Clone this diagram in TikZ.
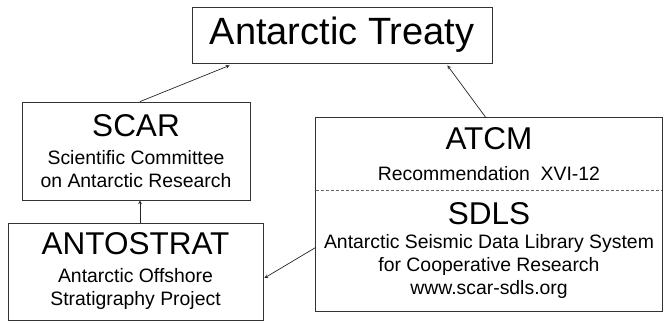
\documentclass[tikz,border=0pt]{standalone}
\usepackage{fontspec}
\setmainfont{Liberation Sans}
\usetikzlibrary{arrows, positioning}
\newcommand{\treatyfont}{\fontsize{38}{44}\selectfont}
\newcommand{\headfont}{\fontsize{31.5}{36}\selectfont}
\newcommand{\subfont}{\fontsize{19.4}{23}\selectfont}
\tikzstyle{arrow} = [line width=0.7pt,->,>=stealth,draw=black!85]
\tikzstyle{orgbox} = [rectangle, draw=black!80, line width=0.8pt, align=center,
font=\subfont, inner sep=0pt]
\tikzstyle{orgpart} = [rectangle, align=center, font=\subfont, inner sep=0pt,
minimum width=346pt]
\tikzstyle{sepline} = [draw=black!60, line width=0.6pt, dash pattern=on 3pt off 2pt]

\begin{document}
\begin{tikzpicture}[x=1pt,y=-1pt]
  \useasboundingbox (0,0) rectangle (665,322);
  \node [orgbox, minimum width=300pt, minimum height=56pt, font=\treatyfont] (treaty)
    at (342,35) {Antarctic Treaty};
  \node [orgbox, minimum width=228pt, minimum height=98pt] (scar)
    at (136,151) {{\headfont SCAR}\\[5pt] Scientific Committee\\ on Antarctic Research};
  \node [orgbox, minimum width=255pt, minimum height=97pt] (antostrat)
    at (135.5,271.5) {{\headfont ANTOSTRAT}\\[5pt] Antarctic Offshore\\ Stratigraphy Project};
  \node [orgpart, minimum height=72pt] (atcm)
    at (489,154) {{\headfont ATCM}\\[8pt] Recommendation\ \ XVI-12};
  \node [orgpart, minimum height=121pt, below=0pt of atcm] (sdls)
    {{\headfont SDLS}\\[1pt] Antarctic Seismic Data Library System\\
     for Cooperative Research\\ www.scar-sdls.org};
  \draw [draw=black!80, line width=0.8pt] (atcm.north west) rectangle (sdls.south east);
  \draw [sepline] (atcm.south west) -- (atcm.south east);
  % links
  \draw [arrow] ([xshift=4pt]scar.north) -- ([xshift=38pt,yshift=-2pt]treaty.south west);
  \draw [arrow] ([xshift=-3pt]atcm.north) -- ([xshift=-45pt,yshift=-2pt]treaty.south east);
  \draw [arrow] ([xshift=4.5pt]antostrat.north) -- ([xshift=4.5pt]antostrat.north |- scar.south);
  \draw [arrow] ([yshift=3.5pt]sdls.west) -- ([yshift=-6.5pt,xshift=1pt]antostrat.east);
\end{tikzpicture}
\end{document}
